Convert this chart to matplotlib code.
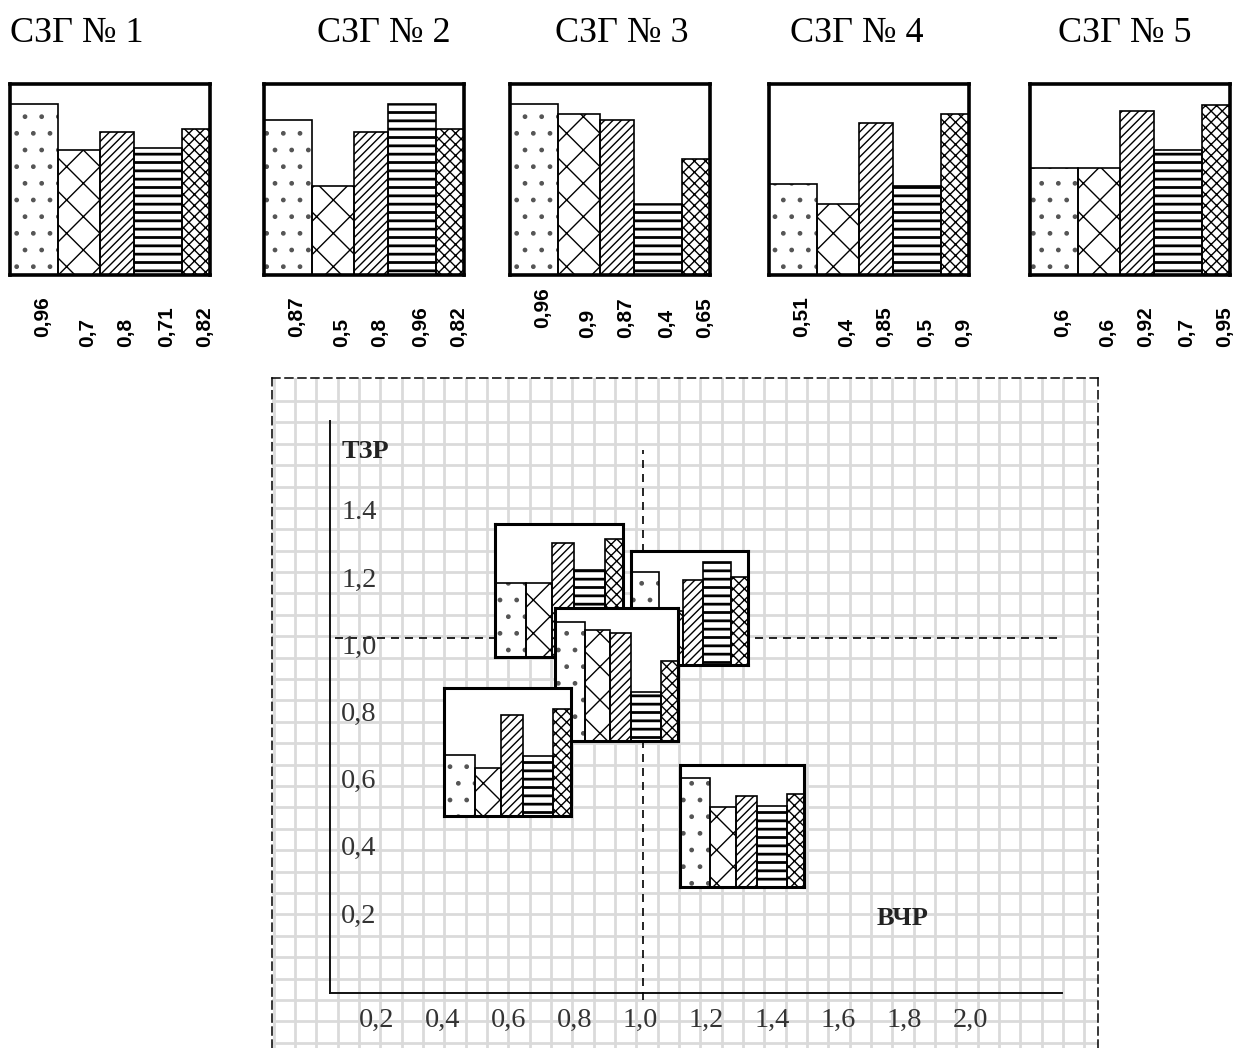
import numpy as np
import matplotlib
matplotlib.use("Agg")
import matplotlib.pyplot as plt

#  DATA
GROUPS   = ["СЗГ № 1", "СЗГ № 2", "СЗГ № 3", "СЗГ № 4", "СЗГ № 5"]
VALS_G1  = [0.96, 0.70, 0.80, 0.71, 0.82]
VALS_G2  = [0.87, 0.50, 0.80, 0.96, 0.82]
VALS_G3  = [0.96, 0.90, 0.87, 0.40, 0.65]
VALS_G4  = [0.51, 0.40, 0.85, 0.50, 0.90]
VALS_G5  = [0.60, 0.60, 0.92, 0.70, 0.95]
VALUES   = [VALS_G1, VALS_G2, VALS_G3, VALS_G4, VALS_G5]

# position of each group on the map (ВЧР, ТЗР)
VCHR     = [1.30, 1.14, 0.92, 0.59, 0.745]
TZR      = [0.44, 1.09, 0.89, 0.66, 1.14]

X_TICKS  = [0.2, 0.4, 0.6, 0.8, 1.0, 1.2, 1.4, 1.6, 1.8, 2.0]
X_LABELS = ["0,2", "0,4", "0,6", "0,8", "1,0", "1,2", "1,4", "1,6", "1,8", "2,0"]
Y_TICKS  = [0.2, 0.4, 0.6, 0.8, 1.0, 1.2, 1.4]
Y_LABELS = ["0,2", "0,4", "0,6", "0,8", "1,0", "1,2", "1.4"]

#  STYLE
W, H       = 1238, 1048
BAR_W      = [0.24, 0.21, 0.17, 0.24, 0.14]
HATCHES    = [".", "x", "////", "--", "xxx"]
HATCH_CLR  = ["#555555", "black", "black", "black", "black"]
SERIF      = ["Liberation Serif", "DejaVu Serif"]
SANS       = ["Liberation Sans", "DejaVu Sans"]
YTOP       = 1.07

PANEL_X    = [10, 264, 510, 769, 1030]     # frame left edge, px
TITLE_X    = [10, 317, 555, 790, 1058]
LABEL_BASE = [347, 347, 338, 347, 347]     # bottom of rotated value labels, px
INSET_WPX  = [124, 117, 123, 127, 128]
INSET_HPX  = [122, 114, 133, 128, 133]
INSET_ORDER = [4, 1, 2, 3, 0]              # drawing order (back to front)

plt.rcParams["hatch.linewidth"] = 1.0

fig = plt.figure(figsize=(W / 100, H / 100), dpi=100)


def px_box(x0, y0, x1, y1):
    return [x0 / W, 1 - y1 / H, (x1 - x0) / W, (y1 - y0) / H]


def draw_bars(ax, vals, frame_lw):
    lefts = np.concatenate([[0], np.cumsum(BAR_W)[:-1]])
    # hatch fill first (hatch takes the edge colour), then black outlines
    bars = ax.bar(lefts, vals, width=BAR_W, align="edge", color="white",
                  edgecolor=HATCH_CLR, linewidth=0, zorder=2)
    for b, h in zip(bars, HATCHES):
        b.set_hatch(h)
        if h == "--" and hasattr(b, "set_hatch_linewidth"):
            b.set_hatch_linewidth(2.0)
    ax.bar(lefts, vals, width=BAR_W, align="edge", fill=False,
           edgecolor="black", linewidth=1.2, zorder=2.5)
    ax.set_xlim(0, 1)
    ax.set_ylim(0, YTOP)
    ax.set_xticks([])
    ax.set_yticks([])
    for s in ax.spines.values():
        s.set_linewidth(frame_lw)
        s.set_color("black")
        s.set_zorder(3)
    return lefts


#  TOP ROW
for i, vals in enumerate(VALUES):
    ax = fig.add_axes(px_box(PANEL_X[i], 84, PANEL_X[i] + 200, 275))
    lefts = draw_bars(ax, vals, 2.6)
    unit = 191 / YTOP
    for j, v in enumerate(vals):
        base = LABEL_BASE[i] - (10 if j == 0 else 0)
        ax.text(lefts[j] + BAR_W[j] / 2 + 0.045, -(base - 275) / unit,
                f"{v:g}".replace(".", ","), rotation=90, ha="center",
                va="bottom", fontsize=15, fontweight="bold", family=SANS,
                clip_on=False)
    fig.text(TITLE_X[i] / W, 1 - 42 / H, GROUPS[i], ha="left", va="baseline",
             fontsize=26, family=SERIF)

#  MAIN MAP
ax = fig.add_axes(px_box(272, 378, 1098, 1048))
ax.set_xlim(1 + (272 - 643) / 330, 1 + (1098 - 643) / 330)
ax.set_ylim(1 + (638 - 1048) / 336, 1 + (638 - 378) / 336)
ax.set_xticks([])
ax.set_yticks([])
ax.spines["bottom"].set_visible(False)
for side in ["left", "top", "right"]:
    ax.spines[side].set_linewidth(1.1)
    ax.spines[side].set_linestyle((0, (5.2, 3.3)))

# squared paper
for k in range(-1, 38):
    ax.axvline(-0.0545 + k * 0.06465, color="#dadada", lw=2.0, zorder=0)
for k in range(0, 31):
    ax.axhline(1.7054 - k * 0.06366, color="#dadada", lw=2.0, zorder=0)

# axes and the 1,0 cross
ax.plot([0.0515, 0.0515], [-0.0565, 1.646], color="#111111", lw=1.4, zorder=1)
ax.plot([0.0515, 2.27], [-0.0565, -0.0565], color="#111111", lw=1.4, zorder=1)
ax.plot([1.0, 1.0], [-0.077, 1.56], color="black", lw=1.2,
        ls=(0, (4.8, 3.6)), zorder=1)
ax.plot([0.067, 2.255], [1.0, 1.0], color="black", lw=1.2,
        ls=(0, (4.8, 3.6)), zorder=1)

for v, lab in zip(Y_TICKS, Y_LABELS):
    ax.text(0.085, v - 0.047, lab, ha="left", va="baseline", fontsize=20.5,
            family=SERIF, color="#333333")
for v, lab in zip(X_TICKS, X_LABELS):
    ax.text(v - 0.008, -0.158, lab, ha="center", va="baseline", fontsize=20.5,
            family=SERIF, color="#333333")

ax.text(0.088, 1.536, "ТЗР", ha="left", va="baseline", fontsize=19,
        fontweight="bold", family=SERIF, color="#222222")
ax.text(1.709, 0.146, "ВЧР", ha="left", va="baseline", fontsize=19,
        fontweight="bold", family=SERIF, color="#222222")

# small charts placed on the map
to_fig = ax.transData + fig.transFigure.inverted()
for i in INSET_ORDER:
    w = INSET_WPX[i] / 330
    h = INSET_HPX[i] / 336
    (fx0, fy0) = to_fig.transform((VCHR[i] - w / 2, TZR[i] - h / 2))
    (fx1, fy1) = to_fig.transform((VCHR[i] + w / 2, TZR[i] + h / 2))
    iax = fig.add_axes([fx0, fy0, fx1 - fx0, fy1 - fy0])
    draw_bars(iax, VALUES[i], 2.2)

fig.savefig("out.png", dpi=100)
